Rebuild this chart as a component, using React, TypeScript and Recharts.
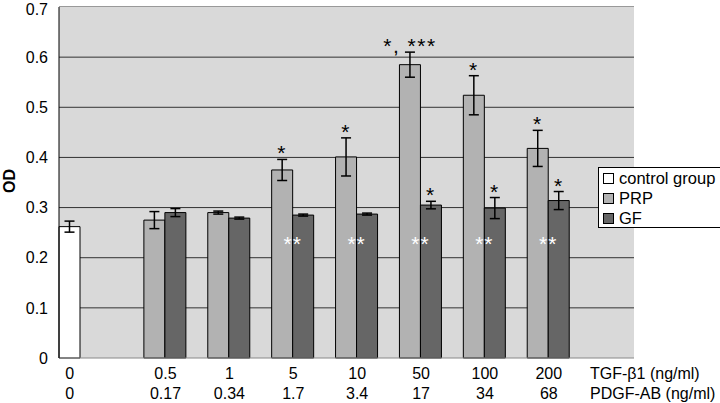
import React from 'react';
import { BarChart, Bar, XAxis, YAxis, CartesianGrid, ErrorBar, LabelList } from 'recharts';

// 9 slots: control, 7 concentrations, one slot holding the unit labels
const categories = ['ctrl', '0.5', '1', '5', '10', '50', '100', '200', 'unit'];
const tgfLabels = ['0', '0.5', '1', '5', '10', '50', '100', '200', 'TGF-\u03b21 (ng/ml)'];
const pdgfLabels = ['0', '0.17', '0.34', '1.7', '3.4', '17', '34', '68', 'PDGF-AB (ng/ml)'];

const controlValues = [0.262, null, null, null, null, null, null, null, null];
const controlErrors = [0.011, null, null, null, null, null, null, null, null];
const prpValues = [null, 0.275, 0.29, 0.375, 0.401, 0.585, 0.524, 0.418, null];
const prpErrors = [null, 0.017, 0.003, 0.021, 0.038, 0.025, 0.039, 0.036, null];
const gfValues = [null, 0.29, 0.279, 0.285, 0.287, 0.305, 0.299, 0.314, null];
const gfErrors = [null, 0.008, 0.002, 0.002, 0.002, 0.0075, 0.021, 0.018, null];

const prpMarks = ['', '', '', '*', '*', '*, ***', '*', '*', ''];
const gfMarks = ['', '', '', '', '', '*', '*', '*', ''];
const whiteMarks = ['', '', '', '**', '**', '**', '**', '**', ''];
const whiteMarkLevel = 0.237;

const yTicks = [0, 0.1, 0.2, 0.3, 0.4, 0.5, 0.6, 0.7];

const data = categories.map((c, i) => ({
  name: c,
  idx: i,
  control: controlValues[i],
  controlErr: controlErrors[i],
  prp: prpValues[i],
  prpErr: prpErrors[i],
  gf: gfValues[i],
  gfErr: gfErrors[i],
}));

const FONT = '"Liberation Sans", Arial, sans-serif';
const PLOT_W = 575;
const SLOT = PLOT_W / categories.length;
const BAR_W = SLOT / 3;
const STAR_SIZE = 21;

const XTick = (props: any) => {
  const { x, y, payload } = props;
  const i = payload.index;
  if (i === categories.length - 1) {
    return (
      <g fontFamily={FONT} fontSize={16} fill="#000">
        <text x={x - 12} y={y + 13} textAnchor="start">{tgfLabels[i]}</text>
        <text x={x - 12} y={y + 33} textAnchor="start">{pdgfLabels[i]}</text>
      </g>
    );
  }
  const cx = i === 0 ? x - BAR_W : x + BAR_W / 2;
  return (
    <g fontFamily={FONT} fontSize={16} fill="#000">
      <text x={cx} y={y + 13} textAnchor="middle">{tgfLabels[i]}</text>
      <text x={cx} y={y + 33} textAnchor="middle">{pdgfLabels[i]}</text>
    </g>
  );
};

// value passed in is the category index (dataKey "idx")
const makeStarLabel = (values: (number | null)[], errors: (number | null)[], marks: string[]) => (props: any) => {
  const { x, y, width, height, value } = props;
  const i = Number(value);
  const v = values[i];
  const e = errors[i];
  if (!marks[i] || v == null || e == null) return null;
  const top = y - (e / v) * height;
  return (
    <text x={x + width / 2} y={top + 1} textAnchor="middle" fontFamily={FONT} fontSize={STAR_SIZE} letterSpacing={1.5} fill="#000">
      {marks[i]}
    </text>
  );
};

const WhiteLabel = (props: any) => {
  const { x, y, height, value } = props;
  const i = Number(value);
  const v = gfValues[i];
  if (!whiteMarks[i] || v == null) return null;
  const cy = y + height - (whiteMarkLevel / v) * height;
  return (
    <text x={x} y={cy + 12} textAnchor="middle" fontFamily={FONT} fontSize={STAR_SIZE} letterSpacing={1} fill="#fff">
      {whiteMarks[i]}
    </text>
  );
};

const legendItems = [
  { label: 'control group', color: '#ffffff' },
  { label: 'PRP', color: '#b2b2b2' },
  { label: 'GF', color: '#666666' },
];

const OdLabel = () => (
  <text x={15} y={181} transform="rotate(-90, 15, 181)" textAnchor="middle" fontFamily={FONT} fontSize={16} fontWeight="bold" fill="#000">
    OD
  </text>
);

export default function App() {
  return (
    <div style={{ position: 'absolute', left: 0, top: 0, width: 720, height: 403, background: '#fff' }}>
      <BarChart
        width={720}
        height={403}
        data={data}
        margin={{ top: 7, right: 86, bottom: 0, left: 0 }}
        barCategoryGap={0}
        barGap={0}
      >
        <CartesianGrid vertical={false} fill="#d9d9d9" stroke="#333" horizontalValues={[0.1, 0.2, 0.3, 0.4, 0.5, 0.6]} />
        <XAxis
          dataKey="name"
          height={45}
          axisLine={{ stroke: '#888' }}
          tickLine={false}
          interval={0}
          tick={<XTick />}
        />
        <YAxis
          domain={[0, 0.7]}
          ticks={yTicks}
          width={59}
          axisLine={{ stroke: '#000' }}
          tickLine={false}
          tickMargin={5}
          tick={{ fontFamily: FONT, fontSize: 16, fill: '#000' }}
          label={<OdLabel />}
        />
        <YAxis yAxisId="right" orientation="right" width={0} tick={false} axisLine={{ stroke: '#999' }} domain={[0, 0.7]} />
        <Bar dataKey="control" name="control group" fill="#ffffff" stroke="#000" strokeWidth={1} isAnimationActive={false}>
          <ErrorBar dataKey="controlErr" width={5} stroke="#000" strokeWidth={1.5} />
        </Bar>
        <Bar dataKey="prp" name="PRP" fill="#b2b2b2" stroke="#000" strokeWidth={1} isAnimationActive={false}>
          <ErrorBar dataKey="prpErr" width={5} stroke="#000" strokeWidth={1.5} />
          <LabelList dataKey="idx" content={makeStarLabel(prpValues, prpErrors, prpMarks)} />
        </Bar>
        <Bar dataKey="gf" name="GF" fill="#666666" stroke="#000" strokeWidth={1} isAnimationActive={false}>
          <ErrorBar dataKey="gfErr" width={5} stroke="#000" strokeWidth={1.5} />
          <LabelList dataKey="idx" content={makeStarLabel(gfValues, gfErrors, gfMarks)} />
          <LabelList dataKey="idx" content={WhiteLabel} />
        </Bar>
      </BarChart>
      {/* top border of the plot area */}
      <div style={{ position: 'absolute', left: 59, top: 6, width: 575, height: 1, background: '#999' }} />
      {/* legend */}
      <div
        style={{
          position: 'absolute',
          left: 598,
          top: 167,
          width: 125,
          height: 61,
          border: '1px solid #000',
          background: '#fff',
          fontFamily: FONT,
          fontSize: 16.5,
          lineHeight: '20px',
          paddingTop: 0,
          boxSizing: 'border-box',
        }}
      >
        {legendItems.map((it) => (
          <div key={it.label} style={{ display: 'flex', alignItems: 'center', whiteSpace: 'nowrap', paddingLeft: 4 }}>
            <span
              style={{
                display: 'inline-block',
                width: 9,
                height: 9,
                background: it.color,
                border: '1px solid #000',
                marginRight: 5,
              }}
            />
            {it.label}
          </div>
        ))}
      </div>
    </div>
  );
}
